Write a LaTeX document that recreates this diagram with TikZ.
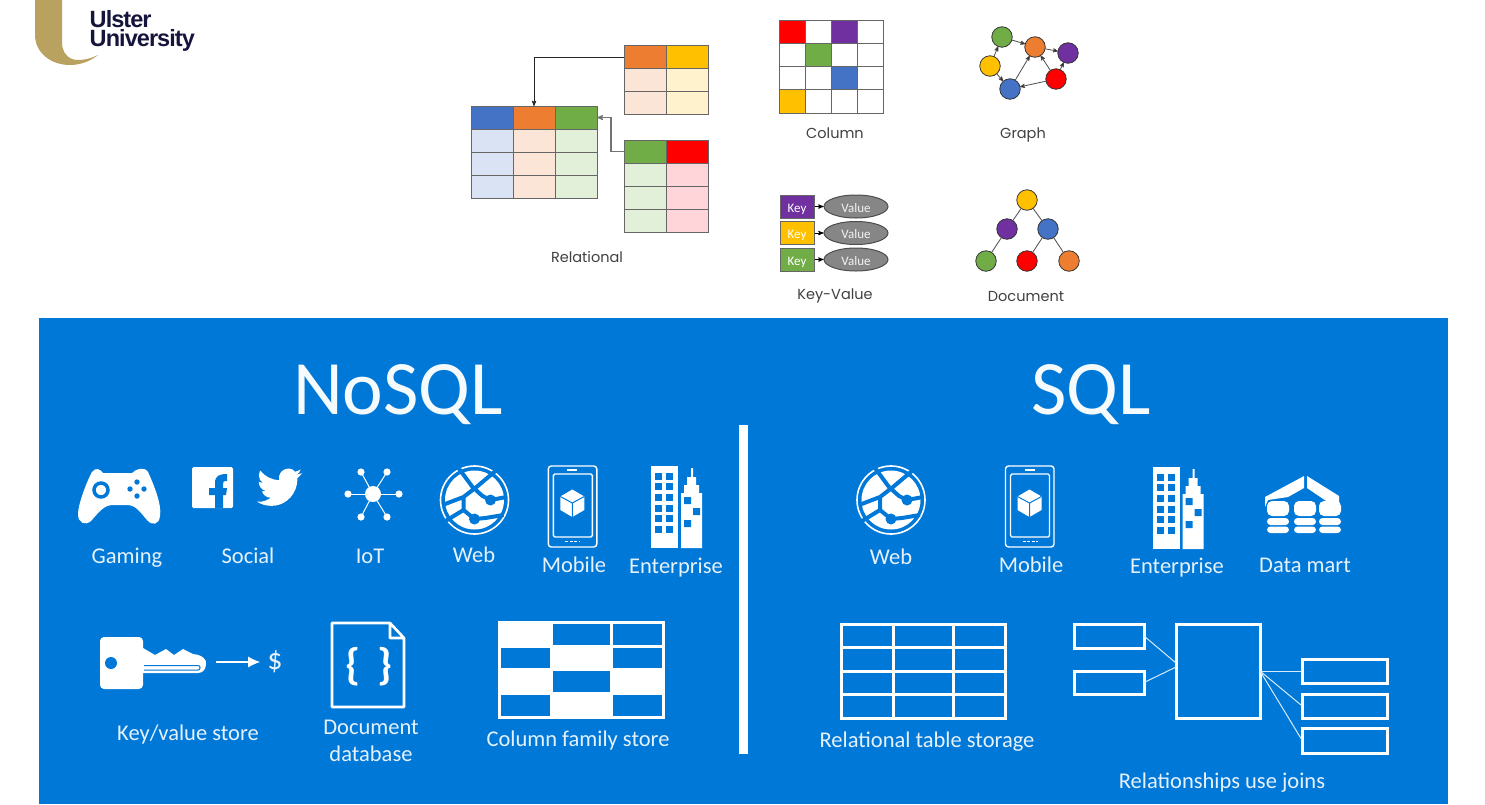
\documentclass[tikz,border=0pt]{standalone}
\usepackage{fontspec}
\setmainfont{Poppins}
\newfontfamily\panelfont{Carlito}
\newfontfamily\logofont[LetterSpace=-4]{Liberation Sans}
\usetikzlibrary{arrows, arrows.meta, positioning, shapes.geometric}
\definecolor{panel}{HTML}{0078D7}
\definecolor{gold}{HTML}{B9A25F}
\definecolor{navy}{HTML}{14143C}
\definecolor{gridgray}{HTML}{666666}
\definecolor{cblue}{HTML}{4472C4}
\definecolor{corange}{HTML}{ED7D31}
\definecolor{cgreen}{HTML}{70AD47}
\definecolor{cyellow}{HTML}{FFC000}
\definecolor{cred}{HTML}{FF0000}
\definecolor{cpurple}{HTML}{7030A0}
\definecolor{tblue}{HTML}{DAE3F3}
\definecolor{torange}{HTML}{FBE5D6}
\definecolor{tgreen}{HTML}{E2F0D9}
\definecolor{tyellow}{HTML}{FFF2CC}
\definecolor{tred}{HTML}{FFD5D9}
\tikzset{
>=stealth', % small heads for the top diagrams
tcell/.style={draw=gridgray, line width=1pt, anchor=north west, inner sep=0pt, outer sep=0pt,
  minimum width=42pt, minimum height=23pt},
ccell/.style={tcell, fill=white, minimum width=26pt, minimum height=23.25pt},
famcell/.style={draw=white, line width=3pt, anchor=north west, inner sep=0pt, outer sep=0pt},
dot/.style={circle, draw=black!80, line width=0.8pt, inner sep=0pt, outer sep=0pt, minimum size=20.5pt},
keybox/.style={draw=gridgray, line width=1pt, text=white, font=\panelfont\fontsize{13}{15}\selectfont,
  text height=11pt, text depth=0pt, minimum width=34pt, minimum height=23pt, inner sep=0pt},
valueblob/.style={ellipse, draw=black!70, fill=gray!95!white, line width=1pt, text=white!90!gray,
  font=\panelfont\fontsize{13}{15}\selectfont, text height=11pt, text depth=0pt,
  minimum width=64pt, minimum height=23pt, inner sep=0pt},
toplabel/.style={text=black!75, font=\fontsize{14.5}{17}\selectfont, inner sep=0pt},
biglabel/.style={text=white!96!panel, font=\panelfont\fontsize{77}{80}\selectfont, inner sep=0pt},
iconlabel/.style={text=white!90!panel, font=\panelfont\fontsize{22.5}{26}\selectfont, inner sep=0pt, align=center},
outlined/.style={draw=white, line width=3pt, inner sep=0pt, outer sep=0pt},
joinline/.style={draw=white!85!panel, line width=1pt},
webicon/.pic={
  \draw[white, line width=1.6pt] (0,0) circle (34pt);
  \fill[white] (0,0) circle (29.5pt);
  \draw[panel, line width=4pt, line join=round]
    (-16,-32) -- (-2,-13) -- (8,-4) -- (16,0) -- (32,-3)
    (-32,5) -- (-11,-3) -- (2,-13) -- (21,-29)
    (-11,-3) -- (-11,10) -- (0,19) -- (11,18) -- (29,15)
    (-29,21) -- (-11,10);
  \fill[panel] (16,0) circle (5.5pt) (0,19) circle (5.5pt);
},
mobileicon/.pic={
  \draw[white, line width=1.4pt, rounded corners=3pt] (0,0) rectangle (48.5,81);
  \draw[white, line width=1.4pt, rounded corners=1.5pt] (5,8) rectangle (44,71);
  \draw[white, line width=1.2pt] (19,4) -- (29,4);
  \draw[white, line width=1.2pt, dash pattern=on 3pt off 1.5pt] (17,75.5) -- (32,75.5);
  \fill[white] (24,23.5) -- (36,30.5) -- (36,44) -- (24,51) -- (12,44) -- (12,30.5) -- cycle;
  \draw[panel, line width=1pt] (12,30.5) -- (24,37) -- (36,30.5) (24,37) -- (24,51);
},
officeicon/.pic={
  \fill[white] (0,0) rectangle (27,82);
  \fill[white] (30,27) -- (33,27) -- (33,19) -- (36,19) -- (36,11) -- (40,11) -- (40,2) -- (42,2)
    -- (42,11) -- (45,11) -- (45,19) -- (48,19) -- (48,27) -- (51,27) -- (51,82) -- (30,82) -- cycle;
  \foreach \wy in {6.5,17,28,39,49,60} {
    \fill[panel] (4,\wy) rectangle ++(7,7);
    \fill[panel] (15,\wy) rectangle ++(7,7);
  }
  \fill[panel] (33,31) rectangle ++(7,7) (42,42) rectangle ++(7,7) (33,54) rectangle ++(7,7);
},
dbstack/.pic={
  \fill[white, rounded corners=5pt] (-11,0) rectangle (11,15);
  \fill[white, rounded corners=3.5pt] (-11,17) rectangle (11,24);
  \fill[white, rounded corners=3.5pt] (-11,25.5) rectangle (11,32);
},
}
\newcommand{\reltable}[5]{% name, left, top, last row, head/tint list
  \foreach \chead/\ctint [count=\ci from 0] in {#5} {
    \node[tcell, fill=\chead] (#1-\ci-0) at (#2+\ci*42,#3) {};
    \foreach \cr in {1,...,#4}
      \node[tcell, fill=\ctint] (#1-\ci-\cr) at (#2+\ci*42,#3+\cr*23) {};
  }
}

\begin{document}
\begin{tikzpicture}[x=1pt,y=-1pt]
  \useasboundingbox (0,0) rectangle (1485,804);

  % logo
  \fill[gold] (35,0) -- (35,35) .. controls (35,52) and (50,65) .. (70,65)
    .. controls (82,65) and (92,60) .. (98,55) .. controls (88,60) and (78,61) .. (72,59)
    .. controls (65,56) and (62,50) .. (62,42) -- (62,0) -- cycle;
  \node[anchor=west, inner sep=0pt, text=navy, align=left,
    font=\logofont\bfseries\fontsize{23.5}{19}\selectfont] (ulster) at (89.5,31) {Ulster\\University};

  % relational
  \reltable{main}{471}{106}{3}{cblue/tblue, corange/torange, cgreen/tgreen}
  \reltable{upper}{624}{45.5}{2}{corange/torange, cyellow/tyellow}
  \reltable{lower}{624}{140}{3}{cgreen/tgreen, cred/tred}
  \draw[->, black!85, line width=0.9pt] (upper-0-0.west) -| (main-1-0.north);
  \draw[->, black!55, line width=1.1pt] (lower-0-0.west) -- ++(-13,0) |- (main-2-0.east);
  \node[toplabel] (relational) at (587,257) {Relational};

  % column
  \foreach \c in {0,...,3}
    \foreach \r in {0,...,3}
      \node[ccell] (col-\c-\r) at (779+\c*26,20+\r*23.25) {};
  \foreach \c/\r/\cfill in {0/0/cred, 2/0/cpurple, 1/1/cgreen, 2/2/cblue, 0/3/cyellow}
    \node[ccell, fill=\cfill] (col-\c-\r) at (779+\c*26,20+\r*23.25) {};
  \node[toplabel] (column) at (835,133) {Column};

  % graph
  \node[dot, fill=cgreen] (ggreen) at (1002,37) {};
  \node[dot, fill=corange] (gorange) at (1035,47) {};
  \node[dot, fill=cpurple] (gpurple) at (1068,53) {};
  \node[dot, fill=cyellow] (gyellow) at (990,66) {};
  \node[dot, fill=cred] (gred) at (1056,79) {};
  \node[dot, fill=cblue] (gblue) at (1010,89) {};
  \path[->, draw=black!70, line width=0.8pt]
  (gyellow) edge (ggreen)
  (ggreen) edge (gorange)
  (gorange) edge (gpurple)
  (gyellow) edge (gblue)
  (gblue) edge (gorange)
  (gred) edge (gblue)
  (gred) edge (gorange)
  (gred) edge (gpurple);
  \node[toplabel] (graph) at (1023,135) {Graph};

  % key-value
  \foreach \k/\ky/\kfill in {1/206.5/cpurple, 2/233/cyellow, 3/259.5/cgreen} {
    \node[keybox, fill=\kfill] (key\k) at (797,\ky) {Key};
    \node[valueblob] (value\k) at (856,\ky) {Value};
    \draw[->, black, line width=0.9pt] (key\k) -- (value\k);
  }
  \node[toplabel] (keyvalue) at (835,296) {Key-Value};

  % document
  \node[dot, fill=cyellow] (dyellow) at (1027,200) {};
  \node[dot, fill=cpurple] (dpurple) at (1007,229) {};
  \node[dot, fill=cblue] (dblue) at (1048,229) {};
  \node[dot, fill=cgreen] (dgreen) at (986,261) {};
  \node[dot, fill=cred] (dred) at (1027,261) {};
  \node[dot, fill=corange] (dorange) at (1069,261) {};
  \draw[black!65, line width=0.9pt] (dyellow) -- (dpurple) (dyellow) -- (dblue)
    (dpurple) -- (dgreen) (dblue) -- (dred) (dblue) -- (dorange);
  \node[toplabel] (document) at (1026,297) {Document};

  % blue panel
  \fill[panel] (39,318) rectangle (1448,804);
  \fill[white] (739,425) rectangle (748,754);
  \node[biglabel] (nosql) at (398,395) {NoSQL};
  \node[biglabel] (sql) at (1091,395) {SQL};

  % gaming
  \fill[white] (103,473) -- (132,473) .. controls (136,469) and (144,466) .. (148,472)
    .. controls (154,485) and (162,505) .. (160,516) .. controls (159,525) and (152,526) .. (147,520)
    .. controls (140,512) and (136,505) .. (127,505) -- (113,505)
    .. controls (104,505) and (99,512) .. (91,521) .. controls (85,526) and (78,523) .. (78,514)
    .. controls (78,505) and (86,483) .. (92,472) .. controls (96,467) and (100,469) .. (103,473) -- cycle;
  \draw[panel, line width=3.5pt] (101,490) circle (7pt);
  \fill[panel] (137,482) circle (2.7pt) (137,496) circle (2.7pt) (130,489) circle (2.7pt) (144,489) circle (2.7pt);
  \node[iconlabel] (gaming) at (127,558) {Gaming};

  % social
  \fill[white, rounded corners=1.5pt] (192,467) rectangle (233,508);
  \fill[panel] (215,508) -- (215,495) -- (209,495) -- (209,488) -- (215,488) -- (215,483)
    .. controls (215,476) and (219,474) .. (227,474) -- (227,481) .. controls (223,481) and (223,482) .. (223,485)
    -- (223,488) -- (227,488) -- (226,495) -- (223,495) -- (223,508) -- cycle;
  \begin{scope}[shift={(257,464.5)}, x=1.875pt, y=-1.9pt]
    \fill[white] (23.95,4.57) .. controls (23.07,4.96) and (22.12,5.22) .. (21.13,5.35)
      .. controls (22.14,4.74) and (22.92,3.77) .. (23.29,2.62)
      .. controls (22.34,3.18) and (21.29,3.58) .. (20.16,3.81)
      .. controls (18.5,0.6) and (10.8,2) .. (11.78,8.29)
      .. controls (7.69,8.1) and (4.07,6.13) .. (1.64,3.16)
      .. controls (1.2,3.9) and (0.97,4.75) .. (0.97,5.64)
      .. controls (0.97,7.35) and (1.84,8.85) .. (3.16,9.73)
      .. controls (2.35,9.7) and (1.6,9.5) .. (0.93,9.12)
      .. controls (0.93,11.6) and (2.6,13.5) .. (4.88,14)
      .. controls (4.17,14.2) and (3.4,14.2) .. (2.67,14.09)
      .. controls (3.3,16.1) and (5.1,17.4) .. (7.27,17.5)
      .. controls (5.6,18.8) and (3.5,19.6) .. (1.17,19.6)
      .. controls (0.78,19.6) and (0.39,19.58) .. (0,19.54)
      .. controls (2.2,20.95) and (4.8,21.75) .. (7.56,21.75)
      .. controls (16.6,21.75) and (21.55,14.26) .. (21.55,7.77)
      .. controls (21.55,7.56) and (21.55,7.35) .. (21.54,7.14)
      .. controls (22.5,6.45) and (23.33,5.57) .. (23.95,4.57) -- cycle;
  \end{scope}
  \node[iconlabel] (social) at (248,556) {Social};

  % iot
  \fill[white] (373,494) circle (8pt);
  \foreach \sx/\sy in {348/494, 399/494, 361/472, 387/472, 361/517, 387/517} {
    \draw[white, line width=1pt] (373,494) -- (\sx,\sy);
    \fill[white] (\sx,\sy) circle (3.6pt);
  }
  \node[iconlabel] (iot) at (370,556) {IoT};

  % repeated icons
  \pic at (474.5,500) {webicon};
  \node[iconlabel] (web1) at (474,555) {Web};
  \pic at (548.3,466) {mobileicon};
  \node[iconlabel] (mobile1) at (574,565) {Mobile};
  \pic at (651,466) {officeicon};
  \node[iconlabel] (enterprise1) at (676,568) {Enterprise};
  \pic at (891,500) {webicon};
  \node[iconlabel] (web2) at (891,557) {Web};
  \pic at (1005.5,466) {mobileicon};
  \node[iconlabel] (mobile2) at (1031,565) {Mobile};
  \pic at (1152.5,467) {officeicon};
  \node[iconlabel] (enterprise2) at (1177,568) {Enterprise};

  % data mart
  \fill[white] (1304,476) -- (1265,497) -- (1265,507) -- (1268,500) -- (1288,497) -- (1304,488) -- cycle;
  \fill[white] (1307,476) -- (1339,496) -- (1339,509) -- (1335,507) -- (1307,488) -- cycle;
  \pic at (1278,501) {dbstack};
  \pic at (1305,501) {dbstack};
  \pic at (1330,501) {dbstack};
  \node[iconlabel] (datamart) at (1305,565) {Data mart};

  % key store
  \fill[white, rounded corners=4pt] (100,637) rectangle (143,689);
  \fill[panel] (111,663) circle (6pt);
  \fill[white] (143,648) -- (155,655) -- (166,649) -- (174,655) -- (183,649) -- (193,654)
    .. controls (203,655) and (207,660) .. (206,664) .. controls (206,669) and (203,673) .. (198,673)
    -- (143,673) -- cycle;
  \draw[panel, line width=1pt, rounded corners=2pt] (144,665.5) -- (200,665.5) -- (200,670) -- (144,670);
  \coordinate (keytip) at (216,662);
  \node[iconlabel, font=\panelfont\fontsize{30}{32}\selectfont] (dollar) at (275,662) {\$};
  \draw[-{Latex[length=12pt,width=11pt]}, white, line width=1.2pt, shorten >=7pt] (keytip) -- (dollar);
  \node[iconlabel] (keystore) at (188,734) {Key/value store};

  % document database
  \draw[white, line width=2.6pt, line join=round] (332,623) -- (390,623) -- (404,638) -- (404,707) -- (332,707) -- cycle
    (390,623) -- (390,638) -- (404,638);
  \node[inner sep=0pt, text=white, font=\panelfont\bfseries\fontsize{44}{46}\selectfont] (bracel) at (353,667) {\{};
  \node[inner sep=0pt, text=white, font=\panelfont\bfseries\fontsize{44}{46}\selectfont] (bracer) at (385,667) {\}};
  \node[iconlabel] (docdb) at (371,741) {Document\\[1pt]database};

  % column family store
  \foreach \fx/\fy/\fw/\fh/\ffill in {
    499/622/52.5/24/white, 551.5/622/59.5/24/panel, 611/622/52.5/24/panel,
    499/646/52.5/23.5/panel, 551.5/646/59.5/23.5/white, 611/646/52.5/23.5/panel,
    499/669.5/52.5/23.5/white, 551.5/669.5/59.5/23.5/panel, 611/669.5/52.5/23.5/white,
    499/693/52.5/24/panel, 551.5/693/59.5/24/white, 611/693/52.5/24/panel}
    \node[famcell, fill=\ffill, minimum width=\fw pt, minimum height=\fh pt] (fam-\fx-\fy) at (\fx,\fy) {};
  \node[iconlabel] (family) at (578,740) {Column family store};

  % relational table storage
  \foreach \tx/\ty/\tw/\th in {
    841/624/52.5/23.5, 893.5/624/59.5/23.5, 953/624/52/23.5,
    841/647.5/52.5/23.5, 893.5/647.5/59.5/23.5, 953/647.5/52/23.5,
    841/671/52.5/23.5, 893.5/671/59.5/23.5, 953/671/52/23.5,
    841/694.5/52.5/23.5, 893.5/694.5/59.5/23.5, 953/694.5/52/23.5}
    \node[famcell, minimum width=\tw pt, minimum height=\th pt] (rts-\tx-\ty) at (\tx,\ty) {};
  \node[iconlabel] (storage) at (927,742) {Relational table storage};

  % joins
  \node[outlined, minimum width=70pt, minimum height=24pt] (joinl1) at (1109,636) {};
  \node[outlined, minimum width=70pt, minimum height=23pt] (joinl2) at (1109,682.5) {};
  \node[outlined, minimum width=84pt, minimum height=94pt] (joinbig) at (1218,671) {};
  \node[outlined, minimum width=85.5pt, minimum height=24pt] (joinr1) at (1345,671) {};
  \node[outlined, minimum width=85.5pt, minimum height=24pt] (joinr2) at (1345,706) {};
  \node[outlined, minimum width=85.5pt, minimum height=25pt] (joinr3) at (1345,740.5) {};
  \draw[joinline] (joinl1.east) -- ([yshift=8pt]joinbig.west);
  \draw[joinline] (joinl2.east) -- ([yshift=4pt]joinbig.west);
  \draw[joinline] (joinbig.east) -- (joinr1.west);
  \draw[joinline] (joinbig.east) -- (joinr2.west);
  \draw[joinline] (joinbig.east) -- (joinr3.west);
  \node[iconlabel] (joins) at (1222,783) {Relationships use joins};
\end{tikzpicture}
\end{document}
